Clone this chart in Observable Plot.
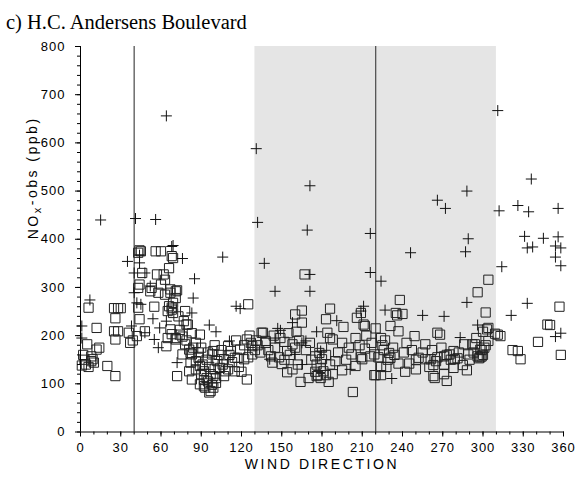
<!DOCTYPE html>
<html>
<head>
<meta charset="utf-8">
<script src="https://cdn.jsdelivr.net/npm/d3@7"></script>
<script src="https://cdn.jsdelivr.net/npm/@observablehq/plot@0.6"></script>
<style>
  html, body { margin: 0; padding: 0; background: white; }
  #title {
    box-sizing: border-box; height: 32px; padding: 12px 0 0 6px;
    font-family: "Liberation Serif", "Times New Roman", serif;
    font-size: 20.5px; line-height: 20.5px; color: #000; white-space: nowrap;
  }
  svg g[aria-label$="tick label"] text { letter-spacing: 1px; }
</style>
</head>
<body>
<div id="title">c) H.C. Andersens Boulevard</div>
<div id="chart"></div>
<script>
// ---- data ----
const squareDir = [
  5,12,12,8,9,4,10,20,26,6,25,28,30,26,25,28,26,2,3,1,14,6,8,
  36,37,42,39,48,43,44,44,45,43,46,44,43,53,52,58,67,56,60,69,66,62,63,57,60,63,67,71,71,69,66,68,69,65,68,55,65,64,68,71,67,78,79,72,68,
  89,80,74,71,78,81,82,86,89,88,92,94,92,97,99,102,104,99,101,107,110,76,83,82,81,83,72,96,93,89,125,135,138,124,127,119,128,117,110,112,107,108,99,98,124,115,122,115,
  86,90,95,97,100,91,94,88,84,79,76,74,77,73,83,86,90,95,103,106,113,118,120,125,130,128,122,131,126,116,111,105,100,96,92,98,101,
  136,138,152,158,171,154,142,143,150,154,175,178,180,179,181,176,179,185,164,170,190,195,202,205,212,216,203,219,209,210,167,165,160,165,161,186,183,196,206,209,211,212,184,186,188,
  132,134,140,145,148,152,156,160,163,168,172,176,180,183,186,188,192,195,198,200,205,208,213,217,144,149,155,158,162,177,183,175,
  238,235,236,240,231,237,220,224,227,233,230,219,222,231,237,224,220,224,249,257,266,268,252,245,257,260,263,264,273,271,273,278,281,286,294,288,285,289,298,296,298,301,303,311,304,266,271,261,263,304,296,302,304,300,313,299,299,297,292,279,275,271,265,278,
  226,229,234,241,243,247,250,255,262,269,276,282,290,293,300,302,295,250,242,228,225,
  357,348,350,341,322,328,358,309,326
];
const squareNox = [
  182,216,171,157,151,140,144,137,116,258,257,257,257,236,209,209,192,160,150,138,175,135,147,
  206,185,199,190,209,258,234,377,375,372,330,306,299,299,292,289,289,375,375,361,340,327,316,327,306,285,296,292,278,268,261,254,247,251,258,260,195,178,203,195,213,251,223,294,365,
  202,223,202,192,182,171,164,147,137,154,126,112,95,85,92,147,133,116,102,116,130,161,161,144,126,109,116,82,92,99,265,206,189,192,185,171,161,154,178,168,151,126,168,161,109,126,151,154,
  130,120,105,120,130,140,150,165,175,190,198,212,230,240,205,185,175,165,160,140,145,135,125,155,170,178,180,190,200,190,160,170,180,135,108,98,112,
  206,185,187,182,185,168,157,144,141,124,157,164,151,133,126,116,112,104,104,112,147,128,161,137,173,157,83,118,155,151,327,252,244,227,208,256,234,218,237,247,223,220,206,195,192,
  180,165,170,175,155,150,160,175,190,170,150,140,175,160,140,120,165,185,150,175,195,180,200,185,200,195,205,130,140,118,118,125,
  274,247,242,245,220,209,215,195,190,175,164,161,155,154,142,135,118,118,199,182,206,202,154,142,151,135,116,112,106,120,160,168,153,182,182,128,139,161,171,157,155,175,213,202,189,155,157,151,139,316,290,248,216,208,199,170,157,153,182,151,161,140,147,133,
  170,150,160,165,185,170,150,165,170,175,150,165,150,165,160,180,195,130,125,135,180,
  260,223,222,187,170,151,160,204,168
];
const plusDir = [
  15,41,56,64,69,131,132,171,169,216,266,272,288,289,311,312,326,334,336,356,
  331,345,356,246,287,333,337,354,358,354,358,314,288,333,321,271,255,296,283,354,
  358,224,227,232,137,171,216,145,171,211,209,191,147,149,176,158,165,168,160,141,
  165,179,201,145,76,106,85,84,116,119,83,96,101,72,111,68,35,44,44,48,
  40,7,40,42,45,1,54,59,64,48,55,58,1,38,52
];
const plusNox = [
  440,443,441,656,387,588,435,511,419,412,481,464,500,401,667,459,470,457,525,464,
  406,402,405,372,374,382,384,386,382,363,345,343,269,267,242,240,242,222,196,198,
  205,313,253,111,350,327,331,292,292,261,251,231,215,211,208,227,185,189,161,151,
  140,168,130,195,360,363,318,278,261,256,247,222,208,144,189,385,354,367,351,330,
  330,274,289,268,265,220,235,216,230,206,192,175,195,220,303
];
const shadeBand = [{from: 130, to: 310}];
const refLines = [40, 220];
const xMajor = d3.range(0, 361, 30);
const xMinor = d3.range(0, 361, 10);
const yMajor = d3.range(0, 801, 100);
const yMinor = d3.range(0, 801, 20);
const xLabel = "WIND DIRECTION";
const yLabel = "NOx-obs (ppb)";

const squares = squareDir.map((d, i) => ({dir: d, nox: squareNox[i]}));
const pluses = plusDir.map((d, i) => ({dir: d, nox: plusNox[i]}));

const plusSymbol = {
  draw(context, size) {
    const r = Math.sqrt(size / Math.PI);
    context.moveTo(-r, 0); context.lineTo(r, 0);
    context.moveTo(0, -r); context.lineTo(0, r);
  }
};

const chart = Plot.plot({
  width: 577,
  height: 452,
  marginLeft: 80,
  marginRight: 14,
  marginTop: 14,
  marginBottom: 52.5,
  style: {fontFamily: "'Liberation Sans', Arial, sans-serif", fontSize: "13px", background: "white", color: "black"},
  x: {domain: [0, 360]},
  y: {domain: [0, 800]},
  marks: [
    Plot.rect(shadeBand, {x1: "from", x2: "to", y1: 0, y2: 800, fill: "#e5e5e5"}),
    Plot.ruleX(refLines, {y1: 0, y2: 800, stroke: "#555", strokeWidth: 1.3}),
    Plot.dot(squares, {x: "dir", y: "nox", symbol: "square", r: 5.2, fill: "none", stroke: "#222", strokeWidth: 1}),
    Plot.dot(pluses, {x: "dir", y: "nox", symbol: plusSymbol, r: 5.5, fill: "none", stroke: "#111", strokeWidth: 1}),
    Plot.ruleY([0], {x1: 0, x2: 360, stroke: "black"}),
    Plot.ruleX([0], {y1: 0, y2: 800, stroke: "black"}),
    Plot.axisX({ticks: xMinor, tickSize: 3, text: null, label: null}),
    Plot.axisX({ticks: xMajor, tickSize: 5, tickPadding: 6, fontSize: 13, label: null, tickFormat: d => String(d)}),
    Plot.axisY({ticks: yMinor, tickSize: 3, text: null, label: null}),
    Plot.axisY({ticks: yMajor, tickSize: 5, tickPadding: 10, fontSize: 13, label: null, tickFormat: d => String(d)}),
    Plot.text([xLabel], {text: d => d, frameAnchor: "bottom", lineAnchor: "bottom", dy: 36.5, fontSize: 14, fill: "black"}),
    Plot.text([yLabel], {text: d => d, frameAnchor: "left", rotate: -90, dx: -47, fontSize: 14, fill: "black"})
  ]
});

document.getElementById("chart").appendChild(chart);

// style the axis labels (letter spacing, subscript x)
chart.querySelectorAll("text").forEach(t => {
  if (t.textContent === xLabel) {
    t.style.letterSpacing = "2.6px";
  } else if (t.textContent === yLabel) {
    t.style.letterSpacing = "2.5px";
    t.textContent = "";
    const ns = "http://www.w3.org/2000/svg";
    const a = document.createElementNS(ns, "tspan"); a.textContent = "NO";
    const b = document.createElementNS(ns, "tspan"); b.textContent = "x"; b.setAttribute("dy", "0.3em"); b.setAttribute("font-size", "11");
    const c = document.createElementNS(ns, "tspan"); c.textContent = "-obs (ppb)"; c.setAttribute("dy", "-0.3em");
    t.append(a, b, c);
  }
});
</script>
</body>
</html>
